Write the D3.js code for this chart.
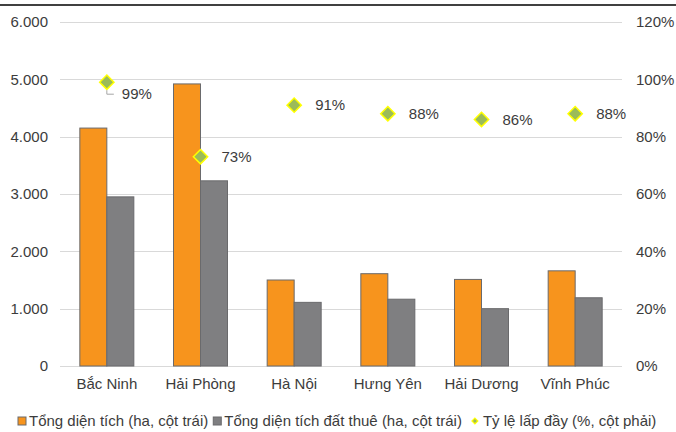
<!DOCTYPE html>
<html>
<head>
<meta charset="utf-8">
<script src="https://cdn.jsdelivr.net/npm/d3@7"></script>
<style>
  html, body { margin: 0; padding: 0; background: #fff; }
  svg { display: block; font-family: "Liberation Sans", Arial, sans-serif; }
</style>
</head>
<body>
<svg id="chart" width="676" height="432"></svg>
<script>
// Khu công nghiệp miền Bắc: diện tích và tỷ lệ lấp đầy
const categories = ["Bắc Ninh", "Hải Phòng", "Hà Nội", "Hưng Yên", "Hải Dương", "Vĩnh Phúc"];
const totalArea  = [4150, 4920, 1500, 1610, 1510, 1660];   // Tổng diện tích (ha)
const leasedArea = [2950, 3230, 1110, 1165, 1000, 1190];   // Tổng diện tích đất thuê (ha)
const occupancy  = [99, 73, 91, 88, 86, 88];               // Tỷ lệ lấp đầy (%)
const leftTicks  = [0, 1000, 2000, 3000, 4000, 5000, 6000];
const rightTicks = [0, 20, 40, 60, 80, 100, 120];
const seriesNames = ["Tổng diện tích (ha, cột trái)", "Tổng diện tích đất thuê (ha, cột trái)", "Tỷ lệ lấp đầy (%, cột phải)"];

const W = 676, H = 432;
const plot = { left: 60, right: 622, top: 22, bottom: 366 };
const textColor = "#3c3c3c";
const orange = "#f7941d", grey = "#7f7f81", barStroke = "#6a6a6c";
const green = "#9bbb59", yellow = "#ffff00";
const fmtThousands = d3.formatLocale({ decimal: ",", thousands: ".", grouping: [3], currency: ["", ""] }).format(",");

const svg = d3.select("#chart");

// top rule
svg.append("line").attr("x1", 0).attr("x2", W).attr("y1", 5).attr("y2", 5)
  .attr("stroke", "#000").attr("stroke-width", 1.5);

const x = d3.scaleBand().domain(categories).range([plot.left, plot.right]);
const xSeries = d3.scaleBand().domain(["total", "leased"]).range([x.bandwidth() / 2 - 27, x.bandwidth() / 2 + 27]);
const yL = d3.scaleLinear().domain([0, 6000]).range([plot.bottom, plot.top]);
const yR = d3.scaleLinear().domain([0, 120]).range([plot.bottom, plot.top]);

// gridlines
svg.append("g").selectAll("line").data(leftTicks).join("line")
  .attr("x1", plot.left).attr("x2", plot.right)
  .attr("y1", d => Math.round(yL(d)) + 0.5).attr("y2", d => Math.round(yL(d)) + 0.5)
  .attr("stroke", "#d9d9d9").attr("stroke-width", 1);

// left axis
const axL = svg.append("g").attr("transform", `translate(${plot.left},0)`)
  .call(d3.axisLeft(yL).tickValues(leftTicks).tickSize(0).tickPadding(12).tickFormat(d => fmtThousands(d)));
axL.select(".domain").remove();
axL.selectAll("text").attr("fill", textColor).style("font-size", "15px").style("font-family", "Liberation Sans, Arial, sans-serif");

// right axis
const axR = svg.append("g").attr("transform", `translate(${plot.right},0)`)
  .call(d3.axisRight(yR).tickValues(rightTicks).tickSize(0).tickPadding(14).tickFormat(d => d + "%"));
axR.select(".domain").remove();
axR.selectAll("text").attr("fill", textColor).style("font-size", "15px").style("font-family", "Liberation Sans, Arial, sans-serif");

// bottom category labels
const axB = svg.append("g").attr("transform", `translate(0,${plot.bottom})`)
  .call(d3.axisBottom(x).tickSize(0).tickPadding(12));
axB.select(".domain").remove();
axB.selectAll("text").attr("fill", textColor).style("font-size", "15px").style("font-family", "Liberation Sans, Arial, sans-serif");

// bars
const groups = svg.append("g").selectAll("g").data(categories).join("g")
  .attr("transform", d => `translate(${x(d)},0)`);
groups.append("rect")
  .attr("x", xSeries("total")).attr("width", xSeries.bandwidth())
  .attr("y", (d, i) => yL(totalArea[i])).attr("height", (d, i) => yL(0) - yL(totalArea[i]))
  .attr("fill", orange).attr("stroke", barStroke).attr("stroke-width", 1);
groups.append("rect")
  .attr("x", xSeries("leased")).attr("width", xSeries.bandwidth())
  .attr("y", (d, i) => yL(leasedArea[i])).attr("height", (d, i) => yL(0) - yL(leasedArea[i]))
  .attr("fill", grey).attr("stroke", barStroke).attr("stroke-width", 1);

// occupancy markers
const diamond = d3.symbol().type(d3.symbolDiamond2).size(130);
const cx = d => x(d) + x.bandwidth() / 2;
svg.append("g").selectAll("path").data(categories).join("path")
  .attr("d", diamond)
  .attr("transform", (d, i) => `translate(${cx(d)},${yR(occupancy[i])})`)
  .attr("fill", green).attr("stroke", yellow).attr("stroke-width", 1.5);

// data labels; the first one sits lower with a leader line
const labelShift = { "Bắc Ninh": [15, 12] };
categories.forEach((c, i) => {
  const px = cx(c), py = yR(occupancy[i]);
  const [dx, dy] = labelShift[c] || [21, 0];
  if (labelShift[c]) {
    svg.append("path")
      .attr("d", `M${px},${py + 8} V${py + dy} H${px + dx - 8}`)
      .attr("fill", "none").attr("stroke", "#a6a6a6").attr("stroke-width", 1);
  }
  svg.append("text").attr("x", px + dx).attr("y", py + dy).attr("dy", "0.35em")
    .attr("fill", textColor).style("font-size", "15px").text(occupancy[i] + "%");
});

// legend
const legendY = 421;
const legend = svg.append("g");
let lx = 18;
[[orange, seriesNames[0]], [grey, seriesNames[1]]].forEach(([col, name]) => {
  legend.append("rect").attr("x", lx).attr("y", legendY - 4).attr("width", 8).attr("height", 8)
    .attr("fill", col).attr("stroke", barStroke).attr("stroke-width", 1);
  const t = legend.append("text").attr("x", lx + 11).attr("y", legendY).attr("dy", "0.35em")
    .attr("fill", textColor).style("font-size", "15px").text(name);
  lx += 11 + t.node().getComputedTextLength() + 5;
});
lx += 5;
legend.append("path").attr("d", d3.symbol().type(d3.symbolDiamond2).size(22))
  .attr("transform", `translate(${lx + 3},${legendY})`)
  .attr("fill", green).attr("stroke", yellow).attr("stroke-width", 1.2);
legend.append("text").attr("x", lx + 11).attr("y", legendY).attr("dy", "0.35em")
  .attr("fill", textColor).style("font-size", "15px").text(seriesNames[2]);
</script>
</body>
</html>
